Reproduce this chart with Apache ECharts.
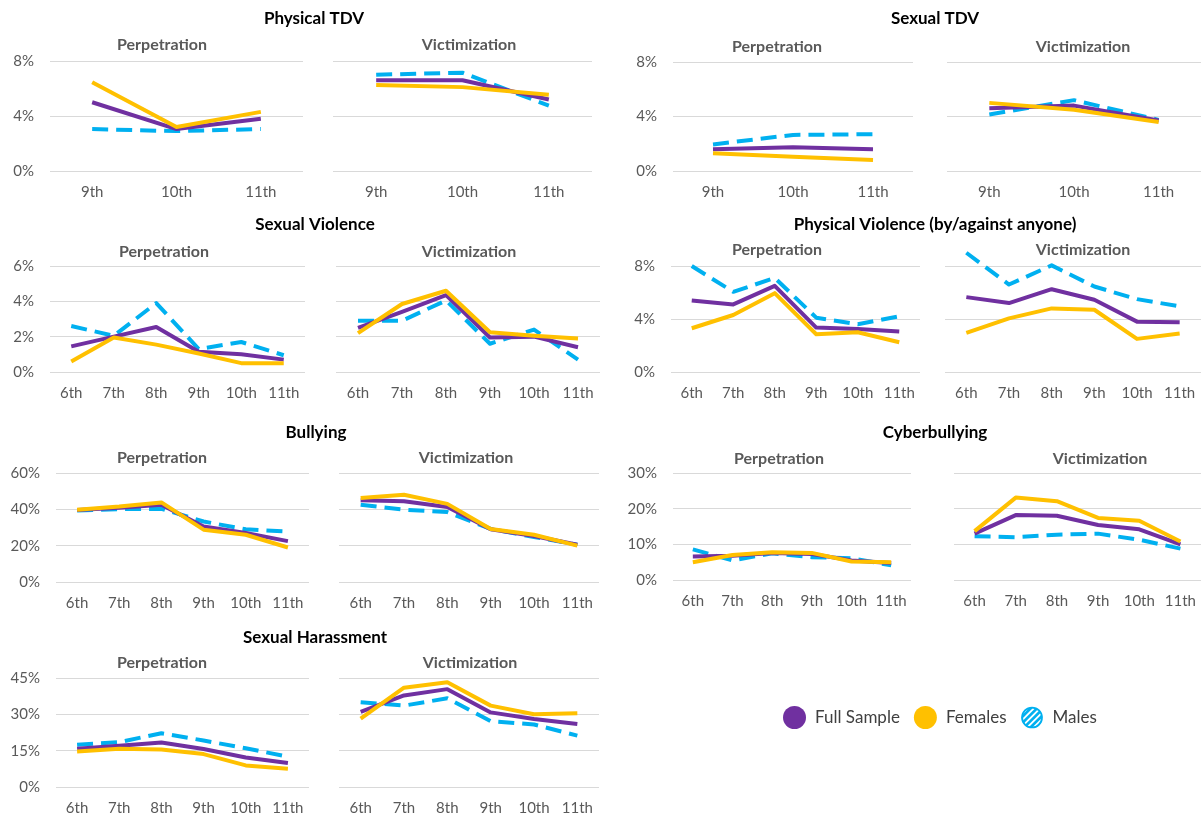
<!DOCTYPE html>
<html><head><meta charset="utf-8">
<script src="https://cdn.jsdelivr.net/npm/echarts@6/dist/echarts.min.js"></script>
<style>html,body{margin:0;padding:0;background:#fff}#chart{width:1201px;height:816px}</style>
</head><body><div id="chart"></div>
<script>
// ---- categories ----
const grades3 = ['9th', '10th', '11th'];
const grades6 = ['6th', '7th', '8th', '9th', '10th', '11th'];
const seriesNames = ['Full Sample', 'Females', 'Males'];

// ---- y tick labels (percent) ----
const ticksTdv = [0, 4, 8];
const ticksSexViol = [0, 2, 4, 6];
const ticksPhysViol = [0, 4, 8];
const ticksBully = [0, 20, 40, 60];
const ticksCyber = [0, 10, 20, 30];
const ticksHarass = [0, 15, 30, 45];

// ---- values (%) ----
const physTdvPerpFull = [5.0, 3.05, 3.8];
const physTdvPerpFem  = [6.45, 3.2, 4.3];
const physTdvPerpMale = [3.05, 2.9, 3.05];
const physTdvVictFull = [6.6, 6.6, 5.2];
const physTdvVictFem  = [6.25, 6.1, 5.55];
const physTdvVictMale = [7.0, 7.15, 4.75];

const sexTdvPerpFull = [1.6, 1.75, 1.6];
const sexTdvPerpFem  = [1.3, 1.05, 0.8];
const sexTdvPerpMale = [1.95, 2.65, 2.7];
const sexTdvVictFull = [4.6, 4.8, 3.7];
const sexTdvVictFem  = [5.0, 4.5, 3.6];
const sexTdvVictMale = [4.15, 5.2, 3.75];

const sexViolPerpFull = [1.45, 2.0, 2.55, 1.15, 1.0, 0.7];
const sexViolPerpFem  = [0.6, 1.95, 1.55, 1.05, 0.5, 0.5];
const sexViolPerpMale = [2.6, 2.05, 3.9, 1.3, 1.7, 0.95];
const sexViolVictFull = [2.5, 3.4, 4.35, 1.95, 2.0, 1.4];
const sexViolVictFem  = [2.2, 3.85, 4.6, 2.25, 2.05, 1.9];
const sexViolVictMale = [2.9, 2.9, 4.05, 1.6, 2.4, 0.7];

const physViolPerpFull = [5.4, 5.1, 6.5, 3.35, 3.25, 3.05];
const physViolPerpFem  = [3.3, 4.3, 5.95, 2.85, 3.0, 2.25];
const physViolPerpMale = [8.0, 6.05, 7.1, 4.1, 3.6, 4.2];
const physViolVictFull = [5.65, 5.2, 6.25, 5.45, 3.8, 3.75];
const physViolVictFem  = [2.95, 4.05, 4.8, 4.7, 2.5, 2.9];
const physViolVictMale = [9.0, 6.6, 8.05, 6.45, 5.5, 4.95];

const bullyPerpFull = [39.6, 40.9, 42.5, 30.5, 27.0, 22.5];
const bullyPerpFem  = [39.8, 41.5, 43.8, 28.8, 26.0, 19.0];
const bullyPerpMale = [39.3, 40.1, 40.3, 33.3, 29.0, 27.8];
const bullyVictFull = [45.0, 44.5, 41.3, 29.0, 25.3, 20.5];
const bullyVictFem  = [46.2, 48.0, 43.0, 29.2, 26.0, 20.0];
const bullyVictMale = [42.5, 39.8, 38.5, 29.2, 24.8, 20.5];

const cyberPerpFull = [6.6, 6.8, 7.6, 7.3, 5.5, 4.8];
const cyberPerpFem  = [5.0, 7.0, 7.8, 7.6, 5.2, 5.0];
const cyberPerpMale = [8.6, 5.5, 7.5, 6.4, 6.1, 4.1];
const cyberVictFull = [13.0, 18.2, 18.0, 15.4, 14.2, 10.0];
const cyberVictFem  = [13.7, 23.1, 22.1, 17.4, 16.6, 10.8];
const cyberVictMale = [12.3, 12.0, 12.7, 13.0, 11.3, 8.8];

const harassPerpFull = [15.8, 17.0, 18.4, 15.7, 12.2, 9.9];
const harassPerpFem  = [14.7, 15.8, 15.5, 13.6, 8.9, 7.5];
const harassPerpMale = [17.4, 18.5, 22.2, 19.2, 16.0, 12.5];
const harassVictFull = [31.0, 37.8, 40.4, 30.8, 28.1, 26.0];
const harassVictFem  = [28.2, 41.0, 43.2, 33.6, 30.0, 30.4];
const harassVictMale = [35.0, 33.6, 36.6, 27.2, 25.8, 21.2];

// ---- styling / layout ----
const FONT = 'Lato, "Open Sans", sans-serif';
const COL_FULL = '#7030A0', COL_FEM = '#FFC000', COL_MALE = '#00B0F0';
const GRIDLINE = '#D9D9D9', LABEL = '#595959';

const panels = [
  {cats: grades3, d: [physTdvPerpFull, physTdvPerpFem, physTdvPerpMale], t: ticksTdv, x0: 50, x1: 303, y0: 61, y1: 171, lab: true},
  {cats: grades3, d: [physTdvVictFull, physTdvVictFem, physTdvVictMale], t: ticksTdv, x0: 333, x1: 592, y0: 61, y1: 171, lab: false},
  {cats: grades3, d: [sexTdvPerpFull, sexTdvPerpFem, sexTdvPerpMale], t: ticksTdv, x0: 673, x1: 913, y0: 62, y1: 171, lab: true},
  {cats: grades3, d: [sexTdvVictFull, sexTdvVictFem, sexTdvVictMale], t: ticksTdv, x0: 947, x1: 1207, y0: 62, y1: 171, lab: false},
  {cats: grades6, d: [sexViolPerpFull, sexViolPerpFem, sexViolPerpMale], t: ticksSexViol, x0: 50, x1: 305, y0: 266, y1: 372, lab: true},
  {cats: grades6, d: [sexViolVictFull, sexViolVictFem, sexViolVictMale], t: ticksSexViol, x0: 336, x1: 600, y0: 266, y1: 372, lab: false},
  {cats: grades6, d: [physViolPerpFull, physViolPerpFem, physViolPerpMale], t: ticksPhysViol, x0: 671, x1: 920, y0: 266, y1: 372, lab: true},
  {cats: grades6, d: [physViolVictFull, physViolVictFem, physViolVictMale], t: ticksPhysViol, x0: 945, x1: 1207, y0: 266, y1: 372, lab: false},
  {cats: grades6, d: [bullyPerpFull, bullyPerpFem, bullyPerpMale], t: ticksBully, x0: 56, x1: 309, y0: 473, y1: 582, lab: true},
  {cats: grades6, d: [bullyVictFull, bullyVictFem, bullyVictMale], t: ticksBully, x0: 339, x1: 599, y0: 473, y1: 582, lab: false},
  {cats: grades6, d: [cyberPerpFull, cyberPerpFem, cyberPerpMale], t: ticksCyber, x0: 673, x1: 911, y0: 473, y1: 580, lab: true},
  {cats: grades6, d: [cyberVictFull, cyberVictFem, cyberVictMale], t: ticksCyber, x0: 954, x1: 1205, y0: 473, y1: 580, lab: false},
  {cats: grades6, d: [harassPerpFull, harassPerpFem, harassPerpMale], t: ticksHarass, x0: 56, x1: 309, y0: 678, y1: 787, lab: true},
  {cats: grades6, d: [harassVictFull, harassVictFem, harassVictMale], t: ticksHarass, x0: 339, x1: 599, y0: 678, y1: 787, lab: false}
];

const mainTitles = [
  ['Physical TDV', 314, 19], ['Sexual TDV', 935, 19],
  ['Sexual Violence', 315, 225], ['Physical Violence (by/against anyone)', 935, 225],
  ['Bullying', 316, 433], ['Cyberbullying', 935, 433],
  ['Sexual Harassment', 315, 638]
];
const subTitles = [
  ['Perpetration', 162, 45], ['Victimization', 469, 45], ['Perpetration', 777, 47], ['Victimization', 1083, 47],
  ['Perpetration', 164, 252], ['Victimization', 469, 252], ['Perpetration', 777, 250], ['Victimization', 1083, 250],
  ['Perpetration', 162, 458], ['Victimization', 466, 458], ['Perpetration', 779, 459], ['Victimization', 1100, 459],
  ['Perpetration', 162, 663], ['Victimization', 470, 663]
];

const title = [];
mainTitles.forEach(([t, x, y]) => title.push({text: t, left: x, top: y, textAlign: 'center', textVerticalAlign: 'middle', padding: 0,
  textStyle: {fontFamily: FONT, fontWeight: 'bold', fontSize: 17, color: '#000'}}));
subTitles.forEach(([t, x, y]) => title.push({text: t, left: x, top: y, textAlign: 'center', textVerticalAlign: 'middle', padding: 0,
  textStyle: {fontFamily: FONT, fontWeight: 'bold', fontSize: 16, color: '#595959'}}));

const grid = [], xAxis = [], yAxis = [], series = [];
panels.forEach((p, i) => {
  grid.push({left: p.x0, top: p.y0, width: p.x1 - p.x0, height: p.y1 - p.y0, containLabel: false});
  xAxis.push({type: 'category', gridIndex: i, data: p.cats, boundaryGap: true,
    axisLine: {show: false}, axisTick: {show: false},
    axisLabel: {interval: 0, color: LABEL, fontFamily: FONT, fontSize: 15, margin: 14}});
  yAxis.push({type: 'value', gridIndex: i, min: p.t[0], max: p.t[p.t.length - 1], interval: p.t[1] - p.t[0],
    axisLine: {show: false}, axisTick: {show: false},
    splitLine: {show: true, lineStyle: {color: GRIDLINE, width: 1}},
    axisLabel: {show: p.lab, formatter: v => v + '%', color: LABEL, fontFamily: FONT, fontSize: 15, margin: 16}});
  const order = [[2, COL_MALE, true], [0, COL_FULL, false], [1, COL_FEM, false]];
  order.forEach(([k, c, dashed]) => {
    series.push({type: 'line', name: seriesNames[k], xAxisIndex: i, yAxisIndex: i, data: p.d[k],
      symbol: 'none', clip: false, silent: true,
      lineStyle: {width: 4, color: c, type: dashed ? [16, 8] : 'solid', cap: 'butt', join: 'round'},
      itemStyle: {color: c}, emphasis: {disabled: true}});
  });
});

const hatchSvg = "<svg xmlns='http://www.w3.org/2000/svg' width='44' height='44' viewBox='0 0 44 44'>" +
  "<defs><clipPath id='c'><circle cx='22' cy='22' r='20'/></clipPath></defs>" +
  "<circle cx='22' cy='22' r='20' fill='white'/>" +
  "<g clip-path='url(#c)' stroke='#00B0F0' stroke-width='5'>" +
  [-44, -32, -20, -8, 4, 16, 28, 40].map(k => `<line x1='${k}' y1='44' x2='${k + 44}' y2='0'/>`).join('') +
  "</g><circle cx='22' cy='22' r='19' fill='none' stroke='#00B0F0' stroke-width='3.5'/></svg>";
const hatchIcon = 'image://data:image/svg+xml;charset=utf-8,' + encodeURIComponent(hatchSvg);

const option = {
  animation: false,
  backgroundColor: '#fff',
  title,
  grid, xAxis, yAxis, series,
  legend: {
    left: 778, top: 701, itemWidth: 23, itemHeight: 23, itemGap: 14, icon: 'circle',
    itemStyle: {borderWidth: 0},
    textStyle: {fontFamily: FONT, fontSize: 17, color: '#404040', padding: [0, 0, 0, 4]},
    data: [{name: 'Full Sample'}, {name: 'Females'}, {name: 'Males', icon: hatchIcon}]
  }
};
const chart = echarts.init(document.getElementById('chart'), null, {renderer: 'canvas'});
chart.setOption(option);
</script></body></html>
